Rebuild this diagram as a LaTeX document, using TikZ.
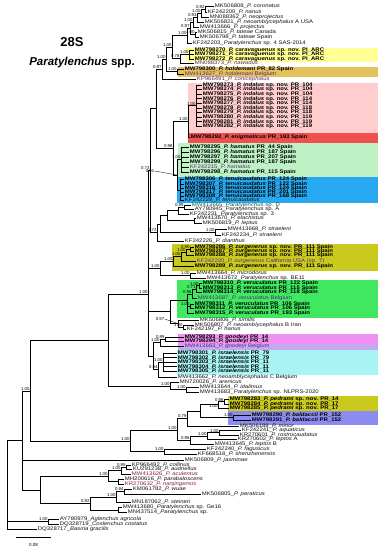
\documentclass[tikz,border=0pt]{standalone}
\usepackage{fontspec}
\setmainfont{Liberation Sans}
\newfontfamily\leaffam[FakeStretch=1.15]{Liberation Sans}
\newcommand{\lf}{\leaffam\fontsize{5.2}{5.2}\selectfont}
\newcommand{\supf}{\fontsize{4.3}{4.3}\selectfont}
\newcommand{\spn}[1]{\textit{#1}}
\definecolor{ck}{RGB}{20,20,20}
\definecolor{cp}{RGB}{90,40,130}
\definecolor{cg}{RGB}{20,90,60}
\definecolor{cr}{RGB}{140,30,60}
\definecolor{bYel}{RGB}{255,255,150}
\definecolor{bGold}{RGB}{226,193,90}
\definecolor{bPink}{RGB}{255,205,205}
\definecolor{bRed}{RGB}{238,80,80}
\definecolor{bMint}{RGB}{190,242,196}
\definecolor{bBlue}{RGB}{40,168,240}
\definecolor{bOlive}{RGB}{202,202,30}
\definecolor{bGreen}{RGB}{64,232,96}
\definecolor{bMag}{RGB}{240,144,240}
\definecolor{bLav}{RGB}{200,166,240}
\definecolor{bCyan}{RGB}{168,244,244}
\definecolor{bPurp}{RGB}{140,140,240}
\begin{document}
\begin{tikzpicture}[x=1pt,y=-1pt,
 leaf/.style={anchor=west, inner xsep=0.7pt, inner ysep=0pt, font=\lf},
 nleaf/.style={leaf, font=\lf\bfseries},
 sup/.style={inner sep=0.3pt, font=\supf},
 br/.style={line width=0.75pt, draw=black}]
\useasboundingbox (0,0) rectangle (387,550);
\fill[white] (0,0) rectangle (387,550);
% bands
\fill[bYel]   (186,47.5) rectangle (378,61.5);
\fill[bGold]  (178,66.5) rectangle (378,77);
\fill[bPink]  (188,83) rectangle (378,132.5);
\fill[bRed]   (188,132.5) rectangle (378,143);
\fill[bMint]  (178,143) rectangle (378,177);
\fill[bBlue]  (177,177) rectangle (378,202.5);
\fill[bOlive] (172,243.5) rectangle (378,271);
\fill[bGreen] (177,280) rectangle (378,318);
\fill[bMag]   (178,333.5) rectangle (378,343.5);
\fill[bLav]   (178,343.5) rectangle (378,349.5);
\fill[bCyan]  (177,350) rectangle (378,375);
\fill[bOlive] (228,396) rectangle (378,411);
\fill[bPurp]  (228,411) rectangle (378,425);
% title
\node[anchor=base, font=\fontsize{13}{13}\selectfont\bfseries] (ttl1) at (72,46) {28S};
\node[anchor=base, font=\fontsize{11.5}{11.5}\selectfont\bfseries] (ttl2) at (82,65) {\textit{Paratylenchus} spp.};
% regular leaves
\foreach \n/\x/\y/\c/\t in {
 cor/214/6/k/{MK506808\_\spn{P. coronatus}},
 nan/207/12/k/{KF242200\_\spn{P. nanus}},
 neop/209/17/k/{MN088362\_\spn{P. neoprojectus}},
 neoA/204/22/k/{MK506821\_\spn{P. neoamblycephalus} A USA},
 proj/199/27/k/{MW413666\_\spn{P. projectus}},
 tatC/197/32/k/{MK506815\_\spn{P. tateae} Canada},
 tatS/199/37/k/{MK506798\_\spn{P. tateae} Spain},
 sp4/192/43/k/{KF242203\_\spn{Paratylenchus} sp. 4 SAS-2014},
 naw/194/63/p/{MN088373\_\spn{P. nawadus}},
 holB/184/74/p/{MW413627\_\spn{P. holdemani} Belgium},
 con/196/79/p/{KP966491\_\spn{P. conicephalus}},
 hamK/189/167/p/{KF242215\_\spn{P. hamatus}},
 tenK/184/200.5/k/{KF242229\_\spn{P. tenuicaudatus}},
 spD/191/205/g/{MW413665\_\spn{Paratylenchus} sp. D},
 spA/194/209.5/k/{AY780945\_\spn{Paratylenchus} sp. A},
 sp3/189/214/k/{KF242231\_\spn{Paratylenchus} sp. 3},
 ela/196/218.5/k/{MW413670\_\spn{P. elachistus}},
 lep/202/223/k/{MK506819\_\spn{P. leptus}},
 strM/227/229/k/{MW413668\_\spn{P. straeleni}},
 strK/221/235/k/{KF242234\_\spn{P. straeleni}},
 dia/184/241/k/{KF242226\_\spn{P. dianthus}},
 zurC/196/261/p/{KF242220\_\spn{P. zurgenerus} California USA (sp. 7)},
 mic/196/273/k/{MW413664\_\spn{P. microdorus}},
 be11/206/278/k/{MW413672\_\spn{Paratylenchus} sp. BE11},
 verB/197/298.5/p/{MW413687\_\spn{P. veruculatus} Belgium},
 sim/199/320/k/{MK506806\_\spn{P. similis}},
 neoB/194/325/k/{MK506807\_\spn{P. neoamblycephalus} B Iran},
 nan2/186/329/k/{KF242197\_\spn{P. nanus}},
 gooB/184/346/p/{MW413663\_\spn{P. goodeyi} Belgium},
 neoC/177/377/k/{MW413662\_\spn{P. neoamblycephalus} C Belgium},
 are/179/382/k/{MN720026\_\spn{P. arenicus}},
 ida/199/387/k/{MW413644\_\spn{P. idalimus}},
 nlp/199/392/k/{MW413683\_\spn{Paratylenchus} sp. NLPRS-2020},
 min/239/426/k/{MK506188\_\spn{P. minor}},
 aqu/241/430.5/k/{KF242241\_\spn{P. aquaticus}},
 ros/239/435/k/{KR270601\_\spn{P. rostrocaudatus}},
 lpA/237/439.5/k/{KR270602\_\spn{P. leptos} A},
 lpB/214/444/k/{MW413645\_\spn{P. leptos} B},
 fag/206/449/k/{KF242240\_\spn{P. fagusicus}},
 she/197/454/k/{KF668518\_\spn{P. shenzhenensis}},
 jas/184/460.5/k/{MK506809\_\spn{P. jasminae}},
 col/131/465/k/{KP966492\_\spn{P. collinus}},
 aud/132/469/k/{KU291238\_\spn{P. audriellus}},
 acu/131/474/r/{MW413626\_\spn{P. aculentus}},
 par/124/479/k/{MH200616\_\spn{P. parabaloscens}},
 nan3/124/484/r/{KR270632\_\spn{P. nanjingensis}},
 wua/132/489/k/{KM061782\_\spn{P. wuae}},
 per/201/494/k/{MK506805\_\spn{P. peraticus}},
 ste/131/502.5/k/{MN187062\_\spn{P. steineri}},
 ge16/122/507.5/k/{MW413680\_\spn{Paratylenchus} sp. Ge16},
 mn43/127/512/k/{MN437514\_\spn{Paratylenchus} sp.},
 agl/59/519/k/{AY780979\_\spn{Aglenchus agricola}},
 cos/59/524/k/{DQ328719\_\spn{Coslenchus costatus}},
 bas/37/529/k/{DQ328717\_\spn{Basiria gracilis}}
}{\coordinate (\n) at (\x,\y); \node[leaf, text=c\c] (\n t) at (\n) {\t};}
% new sequences (bold)
\foreach \n/\x/\y/\t in {
 car1/194/50/{MW798270\_\spn{P. caravaguenus} sp. nov. PI\_ARC},
 car2/194/54.5/{MW798271\_\spn{P. caravaguenus} sp. nov. PI\_ARC},
 car3/194/59/{MW798272\_\spn{P. caravaguenus} sp. nov. PI\_ARC},
 hol1/184/69/{MW798300\_\spn{P. holdemani} PR\_82 Spain},
 ind1/202/85/{MW798273\_\spn{P. indalus} sp. nov. PR\_104},
 ind2/202/89.6/{MW798274\_\spn{P. indalus} sp. nov. PR\_104},
 ind3/202/94.2/{MW798275\_\spn{P. indalus} sp. nov. PR\_104},
 ind4/202/98.8/{MW798276\_\spn{P. indalus} sp. nov. PR\_114},
 ind5/202/103.4/{MW798277\_\spn{P. indalus} sp. nov. PR\_114},
 ind6/202/108/{MW798278\_\spn{P. indalus} sp. nov. PR\_118},
 ind7/202/112.6/{MW798279\_\spn{P. indalus} sp. nov. PR\_118},
 ind8/202/117.2/{MW798280\_\spn{P. indalus} sp. nov. PR\_119},
 ind9/202/121.8/{MW798281\_\spn{P. indalus} sp. nov. PR\_119},
 ind10/202/126.4/{MW798282\_\spn{P. indalus} sp. nov. PR\_119},
 eni/190/137/{MW798292\_\spn{P. enigmaticus} PR\_193 Spain},
 ham1/189/147/{MW798295\_\spn{P. hamatus} PR\_44 Spain},
 ham2/189/152/{MW798296\_\spn{P. hamatus} PR\_187 Spain},
 ham3/189/157/{MW798297\_\spn{P. hamatus} PR\_207 Spain},
 ham4/189/162/{MW798299\_\spn{P. hamatus} PR\_187 Spain},
 ham6/189/172/{MW798298\_\spn{P. hamatus} PR\_115 Spain},
 ten1/184/179.5/{MW798306\_\spn{P. tenuicaudatus} PR\_124 Spain},
 ten2/184/184/{MW798307\_\spn{P. tenuicaudatus} PR\_122 Spain},
 ten3/184/188.5/{MW798316\_\spn{P. tenuicaudatus} PR\_124 Spain},
 ten4/184/192.5/{MW798317\_\spn{P. tenuicaudatus} PR\_201 Spain},
 ten5/184/196.5/{MW798308\_\spn{P. tenuicaudatus} PR\_168 Spain},
 zur1/194/247/{MW798286\_\spn{P. zurgenerus} sp. nov. PR\_111 Spain},
 zur2/194/251/{MW798287\_\spn{P. zurgenerus} sp. nov. PR\_111 Spain},
 zur3/194/255.5/{MW798288\_\spn{P. zurgenerus} sp. nov. PR\_111 Spain},
 zur5/194/266.5/{MW798289\_\spn{P. zurgenerus} sp. nov. PR\_111 Spain},
 ver1/202/283.5/{MW798310\_\spn{P. veruculatus} PR\_122 Spain},
 ver2/202/288/{MW798313\_\spn{P. veruculatus} PR\_115 Spain},
 ver3/202/292.5/{MW798314\_\spn{P. veruculatus} PR\_118 Spain},
 ver4/194/304/{MW798311\_\spn{P. veruculatus} PR\_106 Spain},
 ver5/194/308.5/{MW798312\_\spn{P. veruculatus} PR\_106 Spain},
 ver6/194/313.5/{MW798315\_\spn{P. veruculatus} PR\_193 Spain},
 goo1/184/337/{MW798293\_\spn{P. goodeyi} PR\_14},
 goo2/184/341/{MW798294\_\spn{P. goodeyi} PR\_14},
 isr1/177/353/{MW798301\_\spn{P. israelensis} PR\_79},
 isr2/177/357.5/{MW798302\_\spn{P. israelensis} PR\_79},
 isr3/177/362/{MW798303\_\spn{P. israelensis} PR\_11},
 isr4/177/366.5/{MW798304\_\spn{P. israelensis} PR\_11},
 isr5/177/371/{MW798305\_\spn{P. israelensis} PR\_11},
 ped1/229/399.5/{MW798283\_\spn{P. pedrami} sp. nov. PR\_14},
 ped2/229/404/{MW798284\_\spn{P. pedrami} sp. nov. PR\_17},
 ped3/229/408.5/{MW798285\_\spn{P. pedrami} sp. nov. PR\_17},
 bal1/251/415/{MW798290\_\spn{P. baldaccii} PR\_152},
 bal2/251/420/{MW798291\_\spn{P. baldaccii} PR\_152}
}{\coordinate (\n) at (\x,\y); \node[nleaf] (\n t) at (\n) {\t};}
% internal nodes
\foreach \n/\x/\y in {a1/205/9, a2/201/13, a3/197/17.5, a4/193/22, a5/195/34.5, a6/190/28, a7/187/35.5,
 b1/189/54.5, b2/180/58.5, b3/172/47, h1/177/71.5, b4/166/59, b5/162/69, i1/196/105.7, i2/188/121.4,
 hm1/181/159.5, t1/180/190, ht/177/175, c1/173/148, c2/156/108, d1/184/207, d2/178/210.5, d3/194/220.8,
 d4/167/215.5, s1/215/232, d5/160/224, d6/157/232.5, U/150/170, z1/190/249, z2/186/252, z3/181/256,
 z4/173/261, m1/190/275.5, z5/160/268, v1/199/285.7, v2/196/289, v3/192/294, v4/190/306, v5/187/300,
 n1/183/327, n2/178/323.5, n3/170/311, g1/165/339, g2/160/342.5, is1/163/362, ic/158/369.5, gi/153/356,
 X/148/294, sn1/186/389.5, sn/170/386, M1/108/340, pe0/224/401.7, pe1/218/404, ba1/233/417.5, pb/200/411,
 pbm/187/418.5, aq1/219/432.7, aq2/207/436, aq3/190/440, pq/177/430, fs/164/451.5, big/130/441, N1/30/391,
 co1/126/467, co2/121/470.5, co3/118/481.5, co4/108/476, wu1/124/491.5, wu2/116/497, ge1/118/510,
 wg/90/503.5, N3/40/490, N2/22/440, ac/48/521.5, R/7/495}
 {\coordinate (\n) at (\x,\y);}
% branches
\foreach \p/\c in {a1/cor, a1/nan, a2/a1, a2/neop, a3/a2, a3/neoA, a4/a3, a4/proj, a5/tatC, a5/tatS,
 a6/a4, a6/a5, a7/a6, a7/sp4, b1/car1, b1/car2, b1/car3, b2/b1, b2/naw, b3/a7, b3/b2, h1/hol1, h1/holB,
 b4/b3, b4/h1, b5/b4, b5/con, i1/ind1, i1/ind2, i1/ind3, i1/ind4, i1/ind5, i1/ind6, i1/ind7, i1/ind8,
 i1/ind9, i1/ind10, i2/i1, i2/eni, hm1/ham1, hm1/ham2, hm1/ham3, hm1/ham4, hm1/hamK, hm1/ham6,
 t1/ten1, t1/ten2, t1/ten3, t1/ten4, t1/ten5, t1/tenK, ht/hm1, ht/t1, c1/i2, c1/ht, c2/b5, c2/c1,
 d1/spD, d1/spA, d2/d1, d2/sp3, d3/ela, d3/lep, d4/d2, d4/d3, s1/strM, s1/strK, d5/d4, d5/s1,
 d6/d5, d6/dia, U/c2, U/d6, z1/zur1, z1/zur2, z2/z1, z2/zur3, z3/z2, z3/zurC, z4/z3, z4/zur5,
 m1/mic, m1/be11, z5/z4, z5/m1, v1/ver1, v1/ver2, v2/v1, v2/ver3, v3/v2, v3/verB, v4/ver4, v4/ver5,
 v5/v3, v5/v4, v5/ver6, n1/neoB, n1/nan2, n2/sim, n2/n1, n3/v5, n3/n2, g1/goo1, g1/goo2, g2/g1,
 g2/gooB, is1/isr1, is1/isr2, is1/isr3, is1/isr4, is1/isr5, ic/is1, ic/neoC, gi/g2, gi/ic,
 X/U, X/z5, X/n3, X/gi, sn1/ida, sn1/nlp, sn/are, sn/sn1, M1/X, M1/sn,
 pe0/ped1, pe0/ped2, pe1/pe0, pe1/ped3, ba1/bal1, ba1/bal2, pb/pe1, pb/ba1, pbm/pb, pbm/min,
 aq1/aqu, aq1/ros, aq2/aq1, aq2/lpA, aq3/aq2, aq3/lpB, pq/pbm, pq/aq3, fs/fag, fs/she, big/pq, big/fs,
 N1/M1, N1/big, co1/col, co1/aud, co2/co1, co2/acu, co3/par, co3/nan3, co4/co2, co4/co3,
 wu1/wua, wu1/per, wu2/wu1, wu2/ste, ge1/ge16, ge1/mn43, wg/wu2, wg/ge1,
 N3/co4, N3/wg, N2/N1, N2/jas, N2/N3, ac/agl, ac/cos, R/N2, R/ac, R/bas}
 {\draw[br] (\p) |- (\c);}
% support values
\foreach \n/\t in {a1/0.92, a2/1.00, a3/0.93, a4/1.00, a6/0.97, a5/1.00, a7/1.00, b1/1.00, b2/0.78,
 b3/1.00, b4/1.00, b5/0.97, h1/1.00, i1/1.00, i2/1.00, c1/0.98, hm1/1.00, d1/0.99, s1/1.00, d6/0.72,
 U/0.73, z1/0.90, z2/1.00, z3/1.00, z4/1.00, m1/1.00, z5/1.00, v1/1.00, v2/0.71, v3/0.96, v4/1.00,
 n1/1.00, g1/0.99, g2/1.00, is1/1.00, ic/0.94, X/1.00, sn/1.00, sn1/1.00, pe0/0.96,
 ba1/1.00, pbm/0.79, aq1/1.00, aq2/1.00, aq3/0.96, pq/1.00, fs/1.00, big/1.00, co1/0.95, co2/1.00,
 co4/1.00, wu1/0.94, wu2/1.00, wg/0.92, ac/1.00, N1/1.00}
 {\node[sup, anchor=south east] (lab\n) at (\n) {\t};}
\node[sup, anchor=north east] (labpe1) at (pe1) {1.00};
\node[sup] (lab91) at (150,171) {0.91};
\draw[line width=0.3pt] (lab91.east) -- (ht);
\node[sup] (lab97) at (160,319) {0.97};
\draw[line width=0.3pt] (lab97.east) -- (n2);
% scale bar
\coordinate (sb1) at (16,537);
\coordinate (sb2) at (51,537);
\draw[br] (sb1) -- (sb2);
\node[sup, font=\fontsize{4.5}{4.5}\selectfont] (sbl) at (33.5,545) {0.08};
\end{tikzpicture}
\end{document}
